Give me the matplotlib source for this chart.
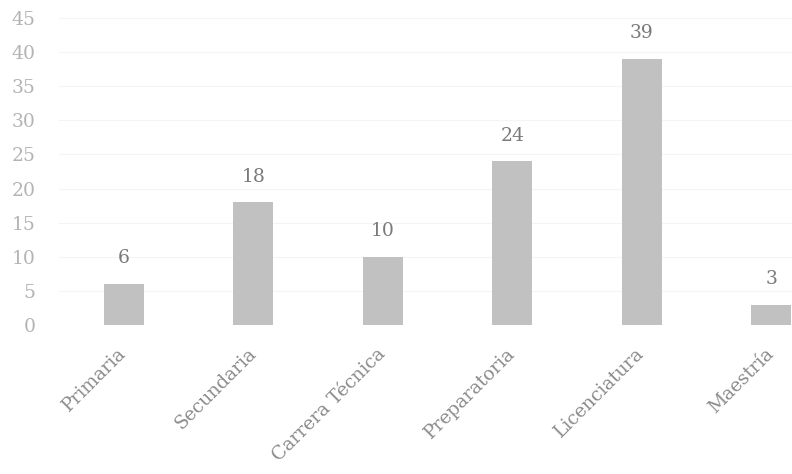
import matplotlib
matplotlib.use("Agg")
import matplotlib.pyplot as plt

categorias = ["Primaria", "Secundaria", "Carrera Técnica", "Preparatoria",
              "Licenciatura", "Maestría"]
valores = [6, 18, 10, 24, 39, 3]
yticks = [0, 5, 10, 15, 20, 25, 30, 35, 40, 45]

plt.rcParams['font.family'] = ['DejaVu Serif']

fig = plt.figure(figsize=(7.92, 4.74), dpi=100)
ax = fig.add_axes([59 / 792, 149 / 474, (792 - 59) / 792, (325 - 18) / 474])

x = list(range(len(categorias)))
ax.bar(x, valores, width=0.31, color="#c1c1c1", zorder=2)

for xi, v in zip(x, valores):
    ax.annotate(str(v), (xi, v), xytext=(0, 12), textcoords="offset points",
                ha="center", va="bottom", fontsize=13.5, color="#7a7a7a")

ax.set_xlim(-0.5, 5.16)
ax.set_ylim(0, 45)
ax.set_yticks(yticks)
ax.set_xticks(x)
ax.set_xticklabels([])

# slanted category names, a little right of each tick like the original
for xi, nombre in zip(x, categorias):
    ax.annotate(nombre, (xi, 0), xycoords=("data", "axes fraction"),
                xytext=(4.5, -14), textcoords="offset points",
                rotation=45, ha="right", va="top", fontsize=13.5,
                color="#8c8c8c", annotation_clip=False)

ax.tick_params(axis="y", length=0, pad=17, labelsize=13.5, labelcolor="#b4b4b4")
ax.tick_params(axis="x", length=0)

ax.grid(axis="y", color="#f4f4f4", linewidth=0.8, zorder=0)
for s in ax.spines.values():
    s.set_visible(False)

fig.savefig("out.png", dpi=100)
